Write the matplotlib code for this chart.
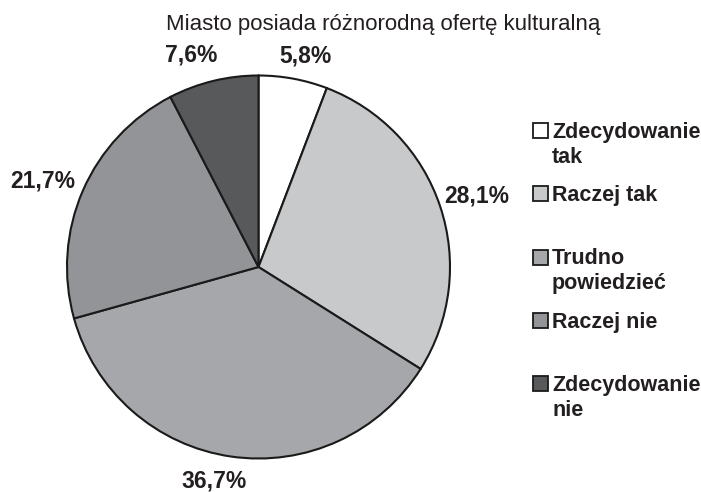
import matplotlib
matplotlib.use('Agg')
from matplotlib import pyplot as plt
from matplotlib.patches import Rectangle
import numpy as np

plt.rcParams['font.family'] = ['Liberation Sans', 'DejaVu Sans']

title = 'Miasto posiada różnorodną ofertę kulturalną'
categories = ['Zdecydowanie\ntak', 'Raczej tak', 'Trudno\npowiedzieć', 'Raczej nie', 'Zdecydowanie\nnie']
values = [5.8, 28.1, 36.7, 21.7, 7.6]
colors = ['#ffffff', '#c8c9cb', '#a6a7aa', '#939498', '#58595b']
# label placement: radial distance and small angular nudge (deg)
label_dist = [1.13, 1.20, 1.14, 1.21, 1.16]
label_nudge = [-2, -0.6, -3.5, 1.8, 4]

W, H = 701, 492
fig = plt.figure(figsize=(W / 100, H / 100), dpi=100)

# pie axes: centre ~ (258, 267) px, radius ~ 192 px
cx, cy, r = 258.5, 267, 191.5
ax = fig.add_axes([(cx - r) / W, (H - cy - r) / H, 2 * r / W, 2 * r / H])
wedges, _ = ax.pie(values, colors=colors, startangle=90, counterclock=False,
                   wedgeprops=dict(edgecolor='#1a1a1a', linewidth=1.5))
ax.set_xlim(-1, 1)
ax.set_ylim(-1, 1)
ax.set_aspect('equal')
ax.axis('off')

for w, v, d, n in zip(wedges, values, label_dist, label_nudge):
    ang = np.deg2rad((w.theta1 + w.theta2) / 2 + n)
    ax.text(d * np.cos(ang), d * np.sin(ang), f'{v:.1f}%'.replace('.', ','),
            ha='center', va='center', fontsize=16.5, fontweight='bold',
            color='#231f20', clip_on=False)

fig.text(383 / W, 1 - 30 / H, title, ha='center', va='baseline',
         fontsize=16, color='#231f20')

# legend
for i, (lab, c) in enumerate(zip(categories, colors)):
    base = 138 + i * 63.25
    fig.patches.append(Rectangle((533 / W, 1 - (base) / H), 15 / W, 15 / H,
                                 transform=fig.transFigure, facecolor=c,
                                 edgecolor='#1a1a1a', linewidth=1.3))
    for k, line in enumerate(lab.split('\n')):
        fig.text(552 / W, 1 - (base + 25 * k) / H, line, ha='left',
                 va='baseline', fontsize=15.5, fontweight='bold', color='#231f20')

fig.savefig('out.png', dpi=100)
